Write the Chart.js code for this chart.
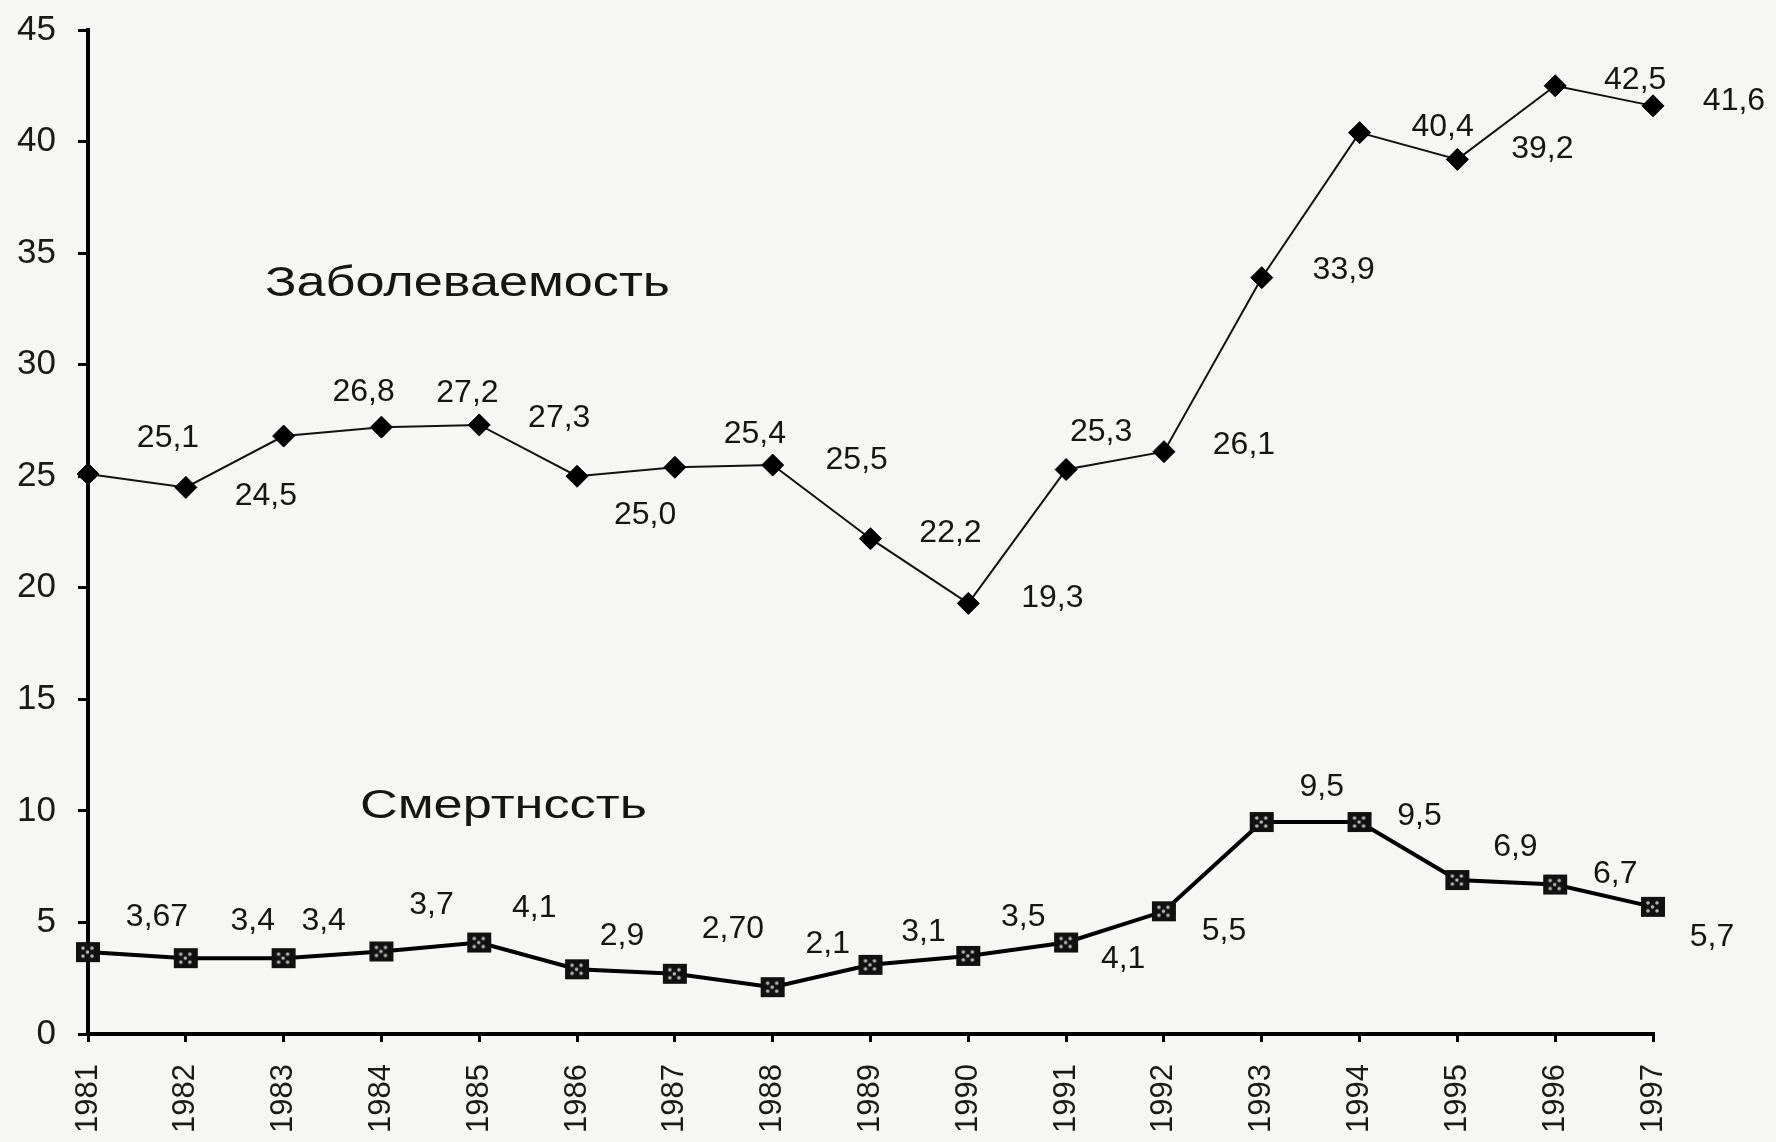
<!DOCTYPE html>
<html>
<head>
<meta charset="utf-8">
<script src="https://cdn.jsdelivr.net/npm/chart.js@4"></script>
<style>
  html, body { margin: 0; padding: 0; background: #f6f6f4; }
  #wrap { width: 1776px; height: 1142px; position: relative; }
</style>
</head>
<body>
<div id="wrap"><canvas id="c" width="1776" height="1142"></canvas></div>
<script>
// ---- data ----
const years = ['1981','1982','1983','1984','1985','1986','1987','1988','1989','1990','1991','1992','1993','1994','1995','1996','1997'];
const incidence = [25.1, 24.5, 26.8, 27.2, 27.3, 25.0, 25.4, 25.5, 22.2, 19.3, 25.3, 26.1, 33.9, 40.4, 39.2, 42.5, 41.6];
const mortality = [3.67, 3.4, 3.4, 3.7, 4.1, 2.9, 2.7, 2.1, 3.1, 3.5, 4.1, 5.5, 9.5, 9.5, 6.9, 6.7, 5.7];
const incidenceText = ['25,1','24,5','26,8','27,2','27,3','25,0','25,4','25,5','22,2','19,3','25,3','26,1','33,9','40,4','39,2','42,5','41,6'];
const mortalityText = ['3,67','3,4','3,4','3,7','4,1','2,9','2,70','2,1','3,1','3,5','4,1','5,5','9,5','9,5','6,9','6,7','5,7'];
const yTicks = [0, 5, 10, 15, 20, 25, 30, 35, 40, 45];
const seriesNames = ['Заболеваемость', 'Смертнссть'];

// ---- label placement (pixel offsets from each point) ----
const incOffsets = [[80,-36],[80,9],[80,-44],[86,-34],[80,-7],[68,39],[80,-33],[84,-5],[80,-6],[84,-5],[35,-37],[80,-7],[82,-7],[83,-5],[85,-10],[80,-6],[81,-5]];
const morOffsets = [[69,-35],[67,-37],[40,-37],[50,-46],[55,-34],[45,-33],[58,-45],[55,-43],[53,-33],[55,-39],[57,17],[60,20],[60,-35],[60,-6],[58,-33],[60,-10],[59,30]];

const FONT = '"Liberation Sans", Arial, sans-serif';

// custom square marker with speckled centre
function makeSquareMarker() {
  const c = document.createElement('canvas');
  c.width = 26; c.height = 22;
  const g = c.getContext('2d');
  g.fillStyle = '#111';
  g.fillRect(1, 1, 24, 20);
  g.fillStyle = '#b8b8b8';
  [[8,7],[17,7],[12.5,11],[8,15],[17,15]].forEach(([x,y]) => {
    g.beginPath(); g.arc(x, y, 1.8, 0, Math.PI*2); g.fill();
  });
  return c;
}
const squareMarker = makeSquareMarker();

const valueLabels = {
  id: 'valueLabels',
  afterDatasetsDraw(chart) {
    const ctx = chart.ctx;
    ctx.save();
    ctx.fillStyle = '#151515';
    ctx.font = '32px ' + FONT;
    ctx.textAlign = 'center';
    ctx.textBaseline = 'middle';
    const texts = [incidenceText, mortalityText];
    const offs = [incOffsets, morOffsets];
    chart.data.datasets.forEach((ds, di) => {
      const meta = chart.getDatasetMeta(di);
      meta.data.forEach((pt, i) => {
        ctx.fillText(texts[di][i], pt.x + offs[di][i][0], pt.y + offs[di][i][1]);
      });
    });
    // series names
    const xs = chart.scales.x, ys = chart.scales.y;
    const names = [
      {t: seriesNames[0], xi: 1.81, yv: 33.1, w: 405, size: 42},
      {t: seriesNames[1], xi: 2.78, yv: 9.67, w: 287, size: 40}
    ];
    ctx.textAlign = 'left';
    ctx.textBaseline = 'alphabetic';
    names.forEach(n => {
      ctx.font = n.size + 'px ' + FONT;
      const x = xs.getPixelForValue(n.xi);
      const y = ys.getPixelForValue(n.yv);
      const mw = ctx.measureText(n.t).width;
      ctx.save();
      ctx.translate(x, y);
      ctx.scale(n.w / mw, 1);
      ctx.fillText(n.t, 0, 0);
      ctx.restore();
    });
    ctx.restore();
  }
};

const bg = {
  id: 'bg',
  beforeDraw(chart) {
    const ctx = chart.ctx;
    ctx.save();
    ctx.fillStyle = '#f6f6f4';
    ctx.fillRect(0, 0, chart.width, chart.height);
    ctx.restore();
  }
};

new Chart(document.getElementById('c'), {
  type: 'line',
  data: {
    labels: years,
    datasets: [
      {
        label: seriesNames[0],
        data: incidence,
        borderColor: '#111',
        borderWidth: 2,
        pointStyle: 'rectRot',
        pointRadius: 11,
        pointBackgroundColor: '#000',
        pointBorderColor: '#000',
        pointBorderWidth: 1,
        tension: 0,
        clip: false
      },
      {
        label: seriesNames[1],
        data: mortality,
        borderColor: '#000',
        borderWidth: 4,
        pointStyle: squareMarker,
        pointRadius: 12,
        tension: 0,
        clip: false
      }
    ]
  },
  options: {
    responsive: false,
    animation: false,
    devicePixelRatio: 1,
    layout: { padding: { top: 30, right: 123, left: 0, bottom: 0 } },
    plugins: { legend: { display: false }, tooltip: { enabled: false } },
    scales: {
      x: {
        type: 'category',
        offset: false,
        afterFit(s) { s.height = 108; s.paddingLeft = 0; s.paddingRight = 0; },
        border: { display: true, color: '#000', width: 4 },
        grid: { drawOnChartArea: false, drawTicks: true, tickLength: 8, color: '#000', lineWidth: 3 },
        ticks: {
          autoSkip: false,
          minRotation: 90,
          maxRotation: 90,
          padding: 22,
          color: '#1a1a1a',
          font: { family: FONT, size: 31 }
        }
      },
      y: {
        min: 0,
        max: 45,
        afterFit(s) { s.width = 88; s.paddingTop = 0; s.paddingBottom = 0; },
        afterBuildTicks(s) { s.ticks = yTicks.map(v => ({ value: v })); },
        border: { display: true, color: '#000', width: 4 },
        grid: { drawOnChartArea: false, drawTicks: true, tickLength: 10, color: '#000', lineWidth: 3 },
        ticks: {
          padding: 22,
          color: '#1a1a1a',
          font: { family: FONT, size: 35 }
        }
      }
    }
  },
  plugins: [bg, valueLabels]
});
</script>
</body>
</html>
